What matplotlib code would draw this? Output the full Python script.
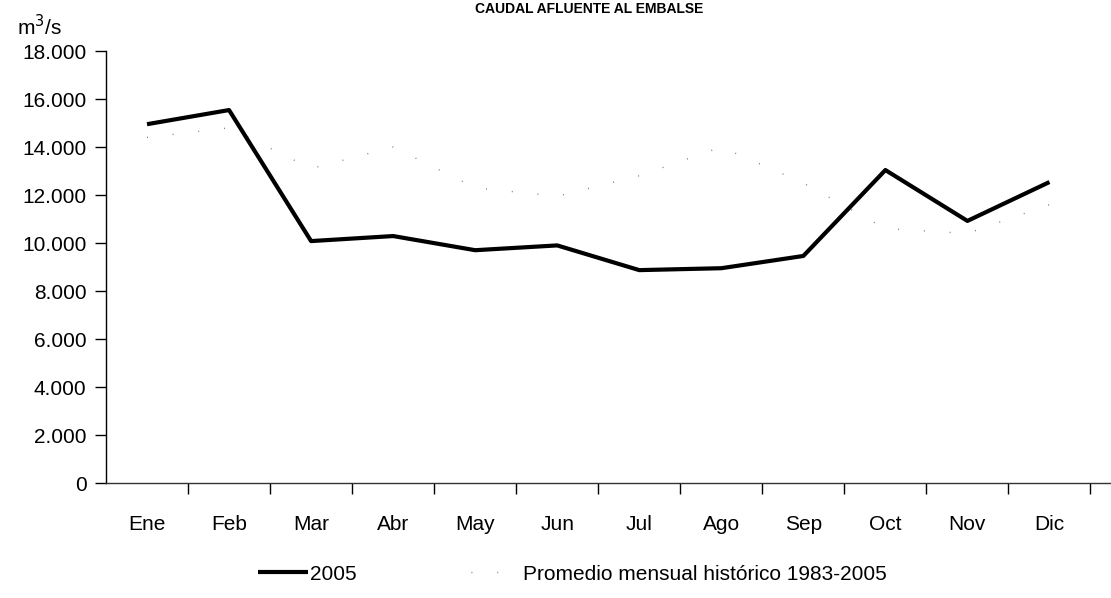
import matplotlib
matplotlib.use("Agg")
import matplotlib.pyplot as plt
from matplotlib.ticker import FuncFormatter

plt.rcParams['font.family'] = ['Liberation Sans', 'DejaVu Sans']

months = ["Ene", "Feb", "Mar", "Abr", "May", "Jun", "Jul", "Ago", "Sep", "Oct", "Nov", "Dic"]
serie_2005 = [14950, 15540, 10080, 10290, 9700, 9900, 8870, 8950, 9460, 13040, 10920, 12540]
promedio_hist = [14400, 14800, 13100, 14000, 12300, 11950, 12800, 14000, 12500, 10600, 10400, 11600]
yticks = list(range(0, 18001, 2000))

fig = plt.figure(figsize=(11.11, 5.98), dpi=100)
ax = fig.add_axes([0.0954, 0.1923, 0.9046, 0.7224])

x = list(range(len(months)))
ax.plot(x, promedio_hist, color="#444444", lw=1.0, linestyle=(0, (0.6, 18)),
        label="Promedio mensual histórico 1983-2005", alpha=0.8)
ax.plot(x, serie_2005, color="black", lw=3.0, label="2005", solid_capstyle="butt")

ax.set_xlim(-0.5, 11.75)
ax.set_ylim(0, 18000)

ax.set_xticks(x)
ax.set_xticklabels(months, fontsize=15)
ax.set_xticks([i + 0.5 for i in range(12)], minor=True)
ax.tick_params(axis='x', which='major', length=0, pad=23)
ax.tick_params(axis='x', which='minor', length=8, direction='out', width=1)

ax.set_yticks(yticks)
ax.yaxis.set_major_formatter(FuncFormatter(lambda v, p: "0" if v == 0 else f"{int(v):,}".replace(",", ".")))
ax.tick_params(axis='y', length=8, direction='out', width=1, labelsize=15, pad=6)

for s in ["top", "right"]:
    ax.spines[s].set_visible(False)
ax.spines["left"].set_linewidth(1.0)
ax.spines["bottom"].set_linewidth(1.0)
ax.spines["bottom"].set_color("#333333")

fig.text(0.015, 0.955, "m$^3$/s", fontsize=15, ha="left", va="center")
fig.text(0.53, 0.997, "CAUDAL AFLUENTE AL EMBALSE", fontsize=10, fontweight="bold",
         ha="center", va="top")

handles, labels = ax.get_legend_handles_labels()
fig.legend(handles[::-1], labels[::-1], loc="center", bbox_to_anchor=(0.515, 0.04), ncol=2,
           frameon=False, fontsize=15, handlelength=2.4, handletextpad=0.1, columnspacing=5.5)

fig.savefig("out.png", dpi=100)
